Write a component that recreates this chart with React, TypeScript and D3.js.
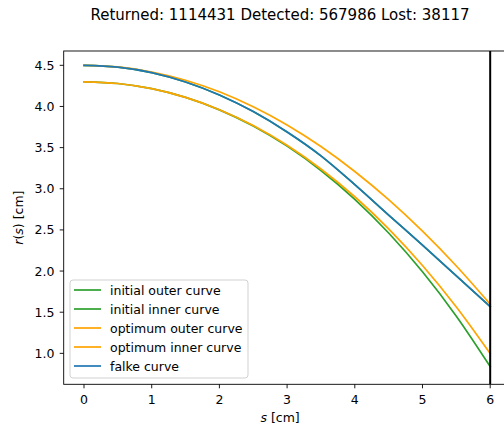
import React from "react";
import * as d3 from "d3";

// Arc length positions along the curve [cm]
const sValues = [0, 0.5, 1, 1.5, 2, 2.5, 3, 3.5, 4, 4.5, 5, 5.5, 6];

// Radius profiles r(s) [cm]
const initialOuter = [4.5, 4.478, 4.412, 4.298, 4.14, 3.938, 3.69, 3.4, 3.05, 2.68, 2.315, 1.942, 1.567];
const initialInner = [4.3, 4.279, 4.216, 4.11, 3.959, 3.763, 3.518, 3.222, 2.872, 2.463, 1.991, 1.452, 0.84];
const optimumOuter = [4.5, 4.48, 4.419, 4.319, 4.178, 3.996, 3.775, 3.513, 3.21, 2.868, 2.485, 2.062, 1.598];
const optimumInner = [4.3, 4.279, 4.216, 4.11, 3.961, 3.768, 3.528, 3.24, 2.903, 2.513, 2.068, 1.564, 0.998];
const falke = [4.5, 4.478, 4.412, 4.298, 4.14, 3.938, 3.69, 3.4, 3.05, 2.68, 2.315, 1.942, 1.567];

const xTicks = [0, 1, 2, 3, 4, 5, 6];
const yTicks = [1.0, 1.5, 2.0, 2.5, 3.0, 3.5, 4.0, 4.5];
const endPosition = 6;

const seriesNames = [
  "initial outer curve",
  "initial inner curve",
  "optimum outer curve",
  "optimum inner curve",
  "falke curve",
];
const seriesData = [initialOuter, initialInner, optimumOuter, optimumInner, falke];
const seriesColors = ["#2ca02c", "#2ca02c", "#ffa500", "#ffa500", "#1f77b4"];

const W = 504;
const H = 430;
const left = 63.7;
const right = 510.5;
const top = 51;
const bottom = 384.3;
const font = "DejaVu Sans, sans-serif";
const tickFont = 12.5;

export default function App() {
  const x = d3.scaleLinear().domain([-0.3, 6.3]).range([left, right]);
  const y = d3.scaleLinear().domain([0.624, 4.674]).range([bottom, top]);

  const line = (vals: number[]) =>
    d3
      .line<number>()
      .x((_, i) => x(sValues[i]))
      .y((v) => y(v))
      .curve(d3.curveMonotoneX)(vals) || "";

  const legendX = 70;
  const legendY = 280;
  const rowH = 19;

  return (
    <div style={{ position: "absolute", left: 0, top: 0, width: W, height: H, overflow: "hidden", background: "#fff" }}>
      <svg width={W} height={H} style={{ display: "block" }} fontFamily={font}>
        <rect x={0} y={0} width={W} height={H} fill="#fff" />
        <defs>
          <clipPath id="plotArea">
            <rect x={left} y={top} width={right - left} height={bottom - top} />
          </clipPath>
        </defs>

        <text x={280} y={20} textAnchor="middle" fontSize={15} fill="#000">
          Returned: 1114431 Detected: 567986 Lost: 38117
        </text>

        <g clipPath="url(#plotArea)">
          {seriesData.map((vals, i) => (
            <path key={i} d={line(vals)} fill="none" stroke={seriesColors[i]} strokeWidth={1.7} strokeLinecap="square" />
          ))}
          <line x1={x(endPosition)} x2={x(endPosition)} y1={top} y2={bottom} stroke="#000" strokeWidth={2} />
        </g>

        {/* frame */}
        <rect x={left} y={top} width={right - left} height={bottom - top} fill="none" stroke="#000" strokeWidth={0.9} />

        {/* x axis ticks */}
        {xTicks.map((t) => (
          <g key={t}>
            <line x1={x(t)} x2={x(t)} y1={bottom} y2={bottom + 4} stroke="#000" strokeWidth={0.9} />
            <text x={x(t)} y={403.5} textAnchor="middle" fontSize={tickFont} fill="#000">
              {t}
            </text>
          </g>
        ))}
        {/* y axis ticks */}
        {yTicks.map((t) => (
          <g key={t}>
            <line x1={left - 4} x2={left} y1={y(t)} y2={y(t)} stroke="#000" strokeWidth={0.9} />
            <text x={54.5} y={y(t) + 4.5} textAnchor="end" fontSize={tickFont} fill="#000">
              {t.toFixed(1)}
            </text>
          </g>
        ))}

        <text x={(left + x(6.3)) / 2 - 7} y={422} textAnchor="middle" fontSize={tickFont} fill="#000">
          <tspan fontStyle="italic">s</tspan> [cm]
        </text>
        <text
          transform={`translate(22.5,${(top + bottom) / 2}) rotate(-90)`}
          textAnchor="middle"
          fontSize={tickFont}
          fill="#000"
        >
          <tspan fontStyle="italic">r</tspan>(<tspan fontStyle="italic">s</tspan>) [cm]
        </text>

        {/* legend */}
        <rect x={legendX} y={legendY} width={178} height={98} rx={3} fill="#fff" fillOpacity={0.8} stroke="#cccccc" strokeWidth={0.9} />
        {seriesNames.map((name, i) => (
          <g key={name}>
            <line
              x1={74}
              x2={101}
              y1={legendY + 10 + i * rowH}
              y2={legendY + 10 + i * rowH}
              stroke={seriesColors[i]}
              strokeWidth={1.7}
            />
            <text x={110} y={legendY + 14.5 + i * rowH} fontSize={tickFont} fill="#000">
              {name}
            </text>
          </g>
        ))}
      </svg>
    </div>
  );
}
